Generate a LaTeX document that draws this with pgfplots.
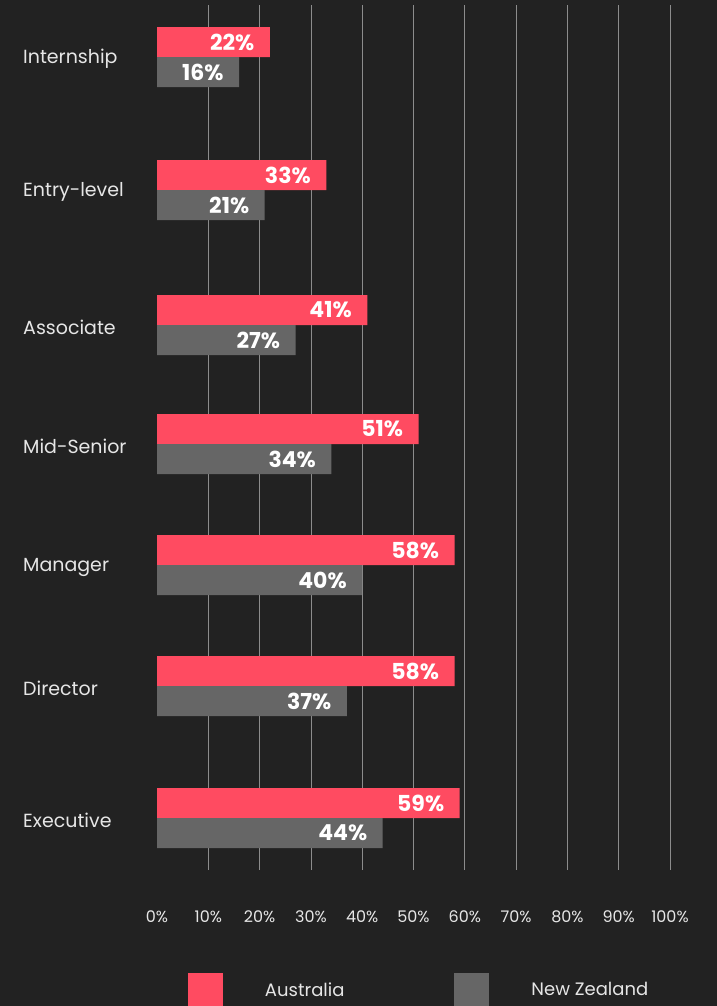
\documentclass[border=0pt]{standalone}
\usepackage{fontspec}
\setmainfont{Poppins}
\usepackage{pgfplots}
\usepackage{pgfplotstable}
\pgfplotsset{compat=1.18}
\pgfplotsset{/pgf/number format/assume math mode=true}
\definecolor{bg}{HTML}{222222}
\definecolor{aus}{HTML}{FF4B61}
\definecolor{nz}{HTML}{666666}
\definecolor{gridc}{HTML}{8C8C8C}
\definecolor{txt}{HTML}{E6E6E6}

\pgfplotstableread{
y val
42 22
175 33
310 41
429 51
550 58
671 58
803 59
}\austab
\pgfplotstableread{
y val
72 16
205 21
340 27
459 34
580 40
701 37
833 44
}\nztab

\begin{document}
\begin{tikzpicture}
\clip (0,0) rectangle (717pt,-1006pt);
\fill[bg] (0,0) rectangle (717pt,-1006pt);
\begin{axis}[
  scale only axis, width=513pt, height=865pt,
  at={(157pt,-870pt)}, anchor=south west,
  xmin=0, xmax=100, ymin=5, ymax=870, y dir=reverse,
  axis line style={draw=none},
  major tick length=0pt,
  xtick={10,20,...,100}, extra x ticks={0}, extra x tick style={grid=none},
  xmajorgrids, grid style={gridc, line width=0.8pt},
  xticklabel={\pgfmathprintnumber{\tick}\%},
  xticklabel style={yshift=-37pt, font=\fontsize{16}{18}\selectfont, text=txt},
  ytick={57,190,325,444,565,686,818},
  yticklabels={Internship,Entry-level,Associate,Mid-Senior,Manager,Director,Executive},
  yticklabel style={anchor=west, xshift=-134pt, yshift=-2pt, inner sep=0pt, font=\fontsize{19}{21}\selectfont, text=txt},
  legend columns=2,
  legend cell align=left,
  legend style={at={(axis description cs:0.0604,-0.1387)}, anchor=west, draw=none, fill=none,
    inner sep=0pt, outer sep=0pt, font=\fontsize{18}{20}\selectfont, text=txt,
    /tikz/every odd column/.append style={column sep=40pt},
    /tikz/every even column/.append style={column sep=108pt}},
]
\addplot[xbar, bar width=30, bar shift=0pt, fill=aus, draw=none, point meta=x,
  nodes near coords={\pgfmathprintnumber{\pgfplotspointmeta}\%},
  nodes near coords style={anchor=east, xshift=-12pt, text=white, font=\bfseries\fontsize{22}{23}\selectfont},
  legend image code/.code={\fill[aus] (0pt,-17.5pt) rectangle (35pt,17.5pt);}]
  table[x=val,y=y]{\austab};
\addlegendentry{Australia}
\addplot[xbar, bar width=30, bar shift=0pt, fill=nz, draw=none, point meta=x,
  nodes near coords={\pgfmathprintnumber{\pgfplotspointmeta}\%},
  nodes near coords style={anchor=east, xshift=-12pt, text=white, font=\bfseries\fontsize{22}{23}\selectfont},
  legend image code/.code={\fill[nz] (0pt,-17.5pt) rectangle (35pt,17.5pt);}]
  table[x=val,y=y]{\nztab};
\addlegendentry{New Zealand}
\end{axis}
\end{tikzpicture}
\end{document}
